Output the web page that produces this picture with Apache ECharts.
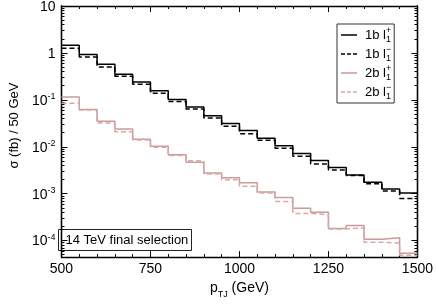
<!DOCTYPE html>
<html><head><meta charset="utf-8">
<script src="https://cdn.jsdelivr.net/npm/echarts@6/dist/echarts.min.js"></script>
<style>html,body{margin:0;padding:0;background:#fff}#c{width:436px;height:304px}</style>
</head><body><div id="c"></div>
<script>
const binEdges = [500,550,600,650,700,750,800,850,900,950,1000,1050,1100,1150,1200,1250,1300,1350,1400,1450,1500];
const b1Plus  = [1.45,0.93,0.57,0.35,0.24,0.156,0.102,0.070,0.0458,0.0315,0.0222,0.0151,0.0105,0.0072,0.0051,0.00362,0.00249,0.00176,0.00126,0.00103];
const b1Minus = [1.25,0.82,0.50,0.32,0.216,0.139,0.0927,0.0637,0.0409,0.0273,0.0190,0.0137,0.00928,0.00625,0.0043,0.00319,0.00245,0.00163,0.00114,0.00079];
const b2Plus  = [0.115,0.0625,0.0351,0.0238,0.0144,0.0103,0.00678,0.00465,0.00277,0.00219,0.00171,0.00108,0.00083,0.00049,0.00040,0.000182,0.000209,0.000107,0.000115,0.0000536];
const b2Minus = [0.0845,0.0608,0.0319,0.0209,0.0139,0.00973,0.00655,0.00503,0.00264,0.00197,0.00144,0.00103,0.00068,0.00038,0.000356,0.000176,0.000188,0.0000927,0.0000885,0.0000487];
const xTicks = [500,750,1000,1250,1500];
const yMajor = [1e-4,1e-3,1e-2,1e-1,1,10];
const yMin = 4.45e-5, yMax = 10;

const yMinor = [];
[1e-5,1e-4,1e-3,1e-2,1e-1,1].forEach(d=>{for(let k=2;k<=9;k++){const v=k*d; if(v>yMin&&v<yMax) yMinor.push(v);}});

function hist(vals){
  const d = vals.map((v,i)=>[binEdges[i],v]);
  d.push([binEdges[binEdges.length-1], vals[vals.length-1]]);
  return d;
}
function yLab(v){
  const e = Math.round(Math.log10(v));
  if(e===0) return '{b|1}';
  if(e===1) return '{b|10}';
  return '{b|10}{s|'+e+'}';
}
const font = 'Liberation Sans, Arial, sans-serif';
const red = '#cc9a9a', red2 = '#d6a9a9';
const chart = echarts.init(document.getElementById('c'), null, {renderer:'canvas'});
const axLine = {show:true, lineStyle:{color:'#000', width:1.3}};
function yAxisDef(pos, ticks, len, labels, name){
  const a = {type:'log', logBase:10, min:yMin, max:yMax, position:pos,
    axisLine:axLine, splitLine:{show:false},
    axisTick:{show:true, inside:true, length:len, customValues:ticks, lineStyle:{color:'#000',width:1}},
    axisLabel:{show:labels, customValues:ticks, formatter:yLab, margin:6,
      rich:{b:{fontFamily:font,fontSize:14,color:'#000',lineHeight:16,verticalAlign:'bottom'},
            s:{fontFamily:font,fontSize:9,color:'#000',verticalAlign:'top',lineHeight:16,padding:[0,0,7,0]}}}};
  if(name){a.name=name; a.nameLocation='middle'; a.nameGap=32; a.nameRotate=90;
    a.nameTextStyle={fontFamily:font,fontSize:13,color:'#000',padding:[0,0,0,12]};}
  return a;
}
function xAxisDef(pos, labels, name){
  const a = {type:'value', min:500, max:1500, interval:250, position:pos,
    axisLine:axLine, splitLine:{show:false},
    axisTick:{show:true, inside:true, length:6, lineStyle:{color:'#000',width:1}},
    minorTick:{show:true, splitNumber:5, length:3, lineStyle:{color:'#000',width:1}},
    axisLabel:{show:labels, fontFamily:font, fontSize:14, color:'#000', margin:5, formatter:v=>String(v)}};
  if(name){a.name=name; a.nameLocation='middle'; a.nameGap=22;
    a.nameTextStyle={fontFamily:font,fontSize:14,color:'#000',
      rich:{b:{fontFamily:font,fontSize:14,color:'#000',lineHeight:18,verticalAlign:'top'},
            s:{fontFamily:font,fontSize:9,color:'#000',verticalAlign:'bottom',lineHeight:18}}};}
  return a;
}
const legRich = {t:{fontFamily:font,fontSize:13,color:'#000',lineHeight:18,padding:[0,0,0,3]},
  sp:{fontFamily:font,fontSize:9,color:'#000',width:0,verticalAlign:'top',lineHeight:9},
  sb:{fontFamily:font,fontSize:9,color:'#000',verticalAlign:'bottom',lineHeight:9}};
function legName(n){
  const p = n.split('|');
  return '{t|'+p[0]+'}{sp|'+p[1]+'}{sb|1}';
}
const solidIcon = 'path://M0,0h16v1.5h-16z';
const dashIcon = 'path://M0,0h4v1.5h-4zM6,0h4v1.5h-4zM12,0h4v1.5h-4z';
const names = ['1b l|+','1b l|−','2b l|+','2b l|−'];
chart.setOption({
  animation:false,
  backgroundColor:'#fff',
  grid:{left:43, right:15, top:5, bottom:36, containLabel:false},
  xAxis:[xAxisDef('bottom', true, '{b|p}{s|TJ}{b| (GeV)}'), xAxisDef('top', false)],
  yAxis:[yAxisDef('left', yMajor, 6, true, 'σ (fb) / 50 GeV'), yAxisDef('left', yMinor, 3, false),
         yAxisDef('right', yMajor, 6, false), yAxisDef('right', yMinor, 3, false)],
  legend:{orient:'vertical', left:337, top:24, itemWidth:16, itemHeight:1.5, itemGap:1,
    borderColor:'#333', borderWidth:1, padding:[2,3,2,4], backgroundColor:'#fff',
    data:[{name:names[0],icon:solidIcon},{name:names[1],icon:dashIcon},{name:names[2],icon:solidIcon},{name:names[3],icon:dashIcon}],
    formatter:legName, textStyle:{rich:legRich}},
  graphic:[{type:'group', left:58, top:229, children:[
    {type:'rect', shape:{x:0,y:0,width:133,height:21}, style:{fill:'#fff', stroke:'#222', lineWidth:1}},
    {type:'text', x:7, y:11, style:{text:'14 TeV final selection', fontFamily:font, fontSize:13, fill:'#000', verticalAlign:'middle'}}
  ]}],
  series:[
    {name:names[0], type:'line', step:'end', data:hist(b1Plus), symbol:'none', lineStyle:{color:'#000', width:1.5}, itemStyle:{color:'#000'}},
    {name:names[1], type:'line', step:'end', data:hist(b1Minus), symbol:'none', lineStyle:{color:'#000', width:1.5, type:[5,3]}, itemStyle:{color:'#000'}},
    {name:names[2], type:'line', step:'end', data:hist(b2Plus), symbol:'none', lineStyle:{color:red, width:1.5}, itemStyle:{color:red}},
    {name:names[3], type:'line', step:'end', data:hist(b2Minus), symbol:'none', lineStyle:{color:red2, width:1.5, type:[5,3]}, itemStyle:{color:red2}}
  ]
});
</script></body></html>
